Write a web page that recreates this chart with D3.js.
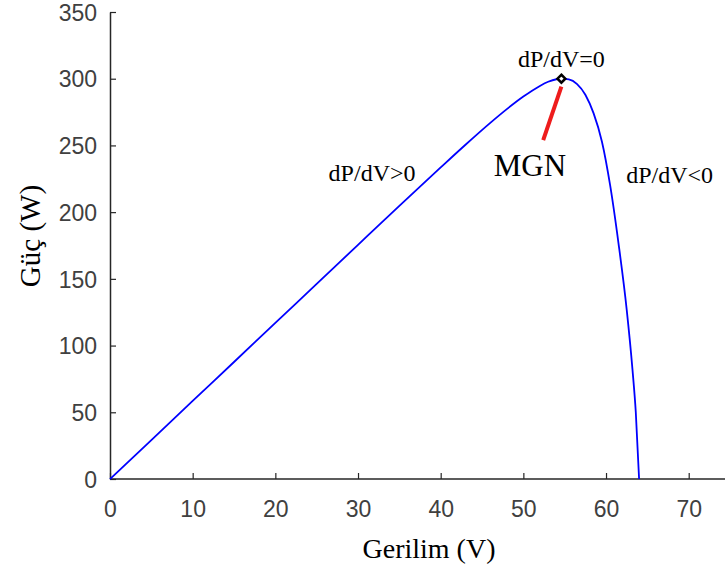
<!DOCTYPE html>
<html>
<head>
<meta charset="utf-8">
<script src="https://cdn.jsdelivr.net/npm/d3@7"></script>
<style>
  body { margin: 0; background: #fff; }
</style>
</head>
<body>
<div id="chart"></div>
<script>
// P-V curve
const voltage = [0, 5, 10, 15, 20, 25, 30, 35, 40, 43, 46, 48, 50, 52, 53, 54, 54.6, 55.5, 56.5, 57.5, 58.5, 59.5, 60.5, 61.5, 62.5, 63.2, 63.6, 64.0];
const power = [0, 29.2, 58.5, 87.7, 117, 146.2, 175.5, 204.7, 233.5, 250.5, 266.9, 277.2, 286.6, 294.6, 297.7, 299.6, 300, 299.5, 296, 288, 274, 253, 220, 177, 127, 82, 50, 0];

const xTicks = [0, 10, 20, 30, 40, 50, 60, 70];
const yTicks = [0, 50, 100, 150, 200, 250, 300, 350];

// maximum power point and the pointer to its label
const mppV = 54.6;
const mppP = 300;
const pointerV = [54.6, 52.4];
const pointerP = [294, 254];

const width = 725;
const height = 574;
const margin = { top: 12, right: 0, bottom: 95, left: 110 };

const svg = d3
  .select('#chart')
  .append('svg')
  .attr('width', width)
  .attr('height', height);

const x = d3
  .scaleLinear()
  .domain([0, 70])
  .range([margin.left, 688.7]);

const y = d3
  .scaleLinear()
  .domain([0, 350])
  .range([height - margin.bottom, margin.top]);

const tickFont = "'Liberation Sans', Arial, sans-serif";
const serif = "'Liberation Serif', 'Times New Roman', serif";

// x axis, ticks pointing inward
const xAxis = svg
  .append('g')
  .attr('transform', `translate(0,${y(0)})`)
  .call(d3.axisTop(x).tickValues(xTicks).tickSize(6).tickSizeOuter(0));
xAxis.select('.domain').attr('d', `M${x(0)},0H${width}`);

const yAxis = svg
  .append('g')
  .attr('transform', `translate(${x(0)},0)`)
  .call(d3.axisRight(y).tickValues(yTicks).tickSize(6).tickSizeOuter(0));

[xAxis, yAxis].forEach((g) => {
  g.select('.domain').attr('stroke', '#262626').attr('stroke-width', 1.5);
  g.selectAll('.tick line').attr('stroke', '#262626').attr('stroke-width', 1.2);
  g.selectAll('.tick text')
    .attr('fill', '#404040')
    .style('font-family', tickFont)
    .style('font-size', '23px');
});

xAxis.selectAll('.tick text').attr('y', 38).attr('dy', 0);
yAxis
  .selectAll('.tick text')
  .attr('x', -13)
  .attr('text-anchor', 'end')
  .attr('dy', '0.36em');

// axis titles
svg
  .append('text')
  .attr('x', 429)
  .attr('y', 558)
  .attr('text-anchor', 'middle')
  .style('font-family', serif)
  .style('font-size', '28px')
  .text('Gerilim (V)');

svg
  .append('text')
  .attr('transform', 'translate(40,236) rotate(-90)')
  .attr('text-anchor', 'middle')
  .style('font-family', serif)
  .style('font-size', '29px')
  .text('Güç (W)');

// the curve
const line = d3
  .line()
  .x((d) => x(d[0]))
  .y((d) => y(d[1]))
  .curve(d3.curveMonotoneX);

svg
  .append('path')
  .datum(voltage.map((v, i) => [v, power[i]]))
  .attr('fill', 'none')
  .attr('stroke', '#0000ff')
  .attr('stroke-width', 1.8)
  .attr('d', line);

// pointer to MGN label
svg
  .append('line')
  .attr('x1', x(pointerV[0]))
  .attr('y1', y(pointerP[0]))
  .attr('x2', x(pointerV[1]))
  .attr('y2', y(pointerP[1]))
  .attr('stroke', '#ee1c1c')
  .attr('stroke-width', 4);

// MPP marker
svg
  .append('path')
  .attr('d', d3.symbol(d3.symbolDiamond2, 40)())
  .attr('transform', `translate(${x(mppV)},${y(mppP)})`)
  .attr('fill', '#fff')
  .attr('stroke', '#000')
  .attr('stroke-width', 2.5);

// labels
const labels = [
  { text: 'dP/dV=0', v: 54.6, p: 309, size: 24 },
  { text: 'dP/dV>0', v: 31.7, p: 223, size: 24 },
  { text: 'dP/dV<0', v: 67.7, p: 222, size: 24 },
  { text: 'MGN', v: 50.8, p: 227, size: 31 }
];

svg
  .selectAll('.lbl')
  .data(labels)
  .enter()
  .append('text')
  .attr('class', 'lbl')
  .attr('x', (d) => x(d.v))
  .attr('y', (d) => y(d.p))
  .attr('text-anchor', 'middle')
  .style('font-family', serif)
  .style('font-size', (d) => d.size + 'px')
  .text((d) => d.text);
</script>
</body>
</html>
